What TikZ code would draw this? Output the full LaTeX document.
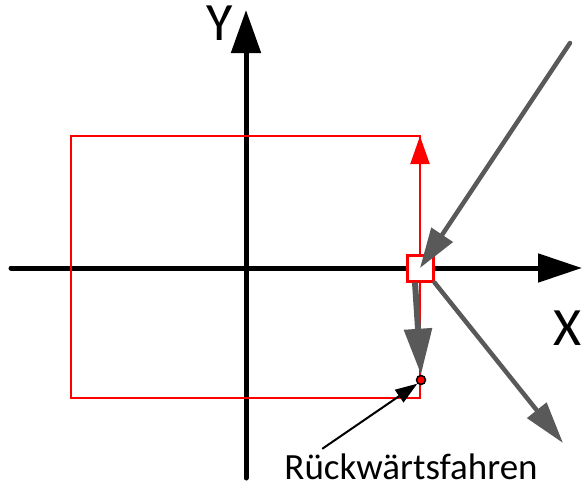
\documentclass[tikz,border=0pt]{standalone}
\usepackage{fontspec}
\setmainfont{Carlito}
\usepackage{xcolor}
\usetikzlibrary{arrows.meta, positioning, calc}
\definecolor{arrowgray}{HTML}{595959}

\begin{document}
\begin{tikzpicture}[
  x=1pt, y=-1pt,
  axis/.style   ={line width=5pt, line cap=round, black},
  redline/.style={line width=2.8pt, red},
  grayarrow/.style={line width=4.5pt, line cap=round, arrowgray},
  lbl/.style    ={font=\fontsize{54}{54}\selectfont, inner sep=0pt},
]
  \useasboundingbox (0,0) rectangle (584,490);

  % === Axes ===
  \coordinate (xstart) at (11,268);
  \coordinate (xend)   at (582,268);
  \coordinate (ystart) at (246,478);
  \coordinate (yend)   at (246,10);
  \draw[axis, -{Triangle[length=44pt, width=28pt]}] (xstart) -- (xend);
  \draw[axis, -{Triangle[length=43pt, width=29pt]}] (ystart) -- (yend);
  \node[lbl] (ylabel) at (220,23) {Y};
  \node[lbl] (xlabel) at (568,328) {X};

  % === Red frame ===
  \coordinate (topleft)  at (71,136);
  \coordinate (topright) at (420,136);
  \coordinate (botright) at (420,398);
  \draw[redline] (topleft) rectangle (botright);

  % Marker box on the x axis
  \node[draw=red, line width=3pt, fill=white, minimum size=26pt,
        inner sep=0pt] (box) at (420,268) {};
  \draw[red, line width=2pt, -{Triangle[length=28pt, width=19pt]}]
    (box.north) -- (topright);

  % === Gray arrows ===
  \coordinate (incoming) at (570,43);
  \coordinate (outgoing) at (563,443);
  \draw[grayarrow, -{Triangle[length=40pt, width=25pt]}]
    (incoming) -- (box.center);
  \draw[grayarrow, -{Triangle[length=42pt, width=24pt]}]
    (box.south east) -- (outgoing);

  % Backwards motion
  \node[circle, fill=red, draw=black, line width=1.5pt,
        minimum size=9pt, inner sep=0pt] (dot) at (421,380) {};
  \draw[arrowgray, line width=6pt,
        -{Triangle[length=46pt, width=27pt]}]
    ([xshift=-5pt]box.south) -- (dot.north);

  % === Annotation ===
  \node[font=\fontsize{37}{37}\selectfont, inner sep=0pt]
    (reverse) at (411,467) {Rückwärtsfahren};
  \draw[black, line width=2pt, -{Triangle[length=22pt, width=15pt]}]
    ([xshift=38pt, yshift=5pt]reverse.north west) -- (dot.south west);

\end{tikzpicture}
\end{document}
